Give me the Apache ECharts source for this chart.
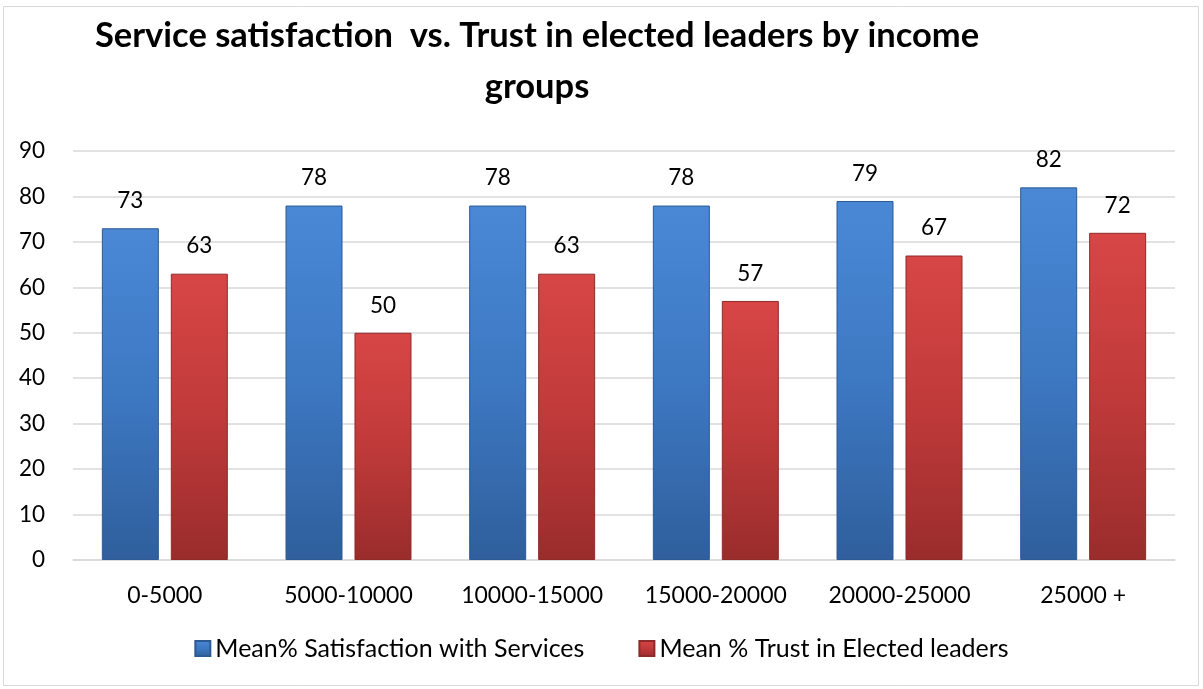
<!DOCTYPE html>
<html><head><meta charset="utf-8">
<script src="https://cdn.jsdelivr.net/npm/echarts@6/dist/echarts.min.js"></script>
<style>html,body{margin:0;padding:0;background:#fff}#c{width:1203px;height:689px}</style>
</head><body><div id="c"></div>
<script>
const categories = ['0-5000','5000-10000','10000-15000','15000-20000','20000-25000','25000 +'];
const satisfaction = [73,78,78,78,79,82];
const trust = [63,50,63,57,67,72];
const seriesNames = ['Mean% Satisfaction with Services','Mean % Trust in Elected leaders'];
const titleText = 'Service satisfaction  vs. Trust in elected leaders by income\ngroups';

const FONT = 'Lato, "Open Sans", sans-serif';
const chart = echarts.init(document.getElementById('c'));
function grad(top, mid, bot){
  return new echarts.graphic.LinearGradient(0,0,0,1,[{offset:0,color:top},{offset:0.5,color:mid},{offset:1,color:bot}]);
}
chart.setOption({
  animation:false,
  backgroundColor:'#fff',
  graphic:[{type:'rect',shape:{x:3.5,y:6.5,width:1195,height:679},style:{fill:'none',stroke:'#d9d9d9',lineWidth:1}}],
  title:{text:titleText,left:532,textAlign:'center',top:5,
    textStyle:{fontFamily:FONT,fontSize:34.5,fontWeight:'bold',color:'#000',lineHeight:51}},
  legend:{bottom:23,left:'center',itemWidth:15,itemHeight:15,itemGap:54,icon:'rect',
    textStyle:{fontFamily:FONT,fontSize:25,color:'#000'}},
  grid:{left:73,right:28,top:151,bottom:129},
  xAxis:{type:'category',data:categories,
    axisLine:{lineStyle:{color:'#d9d9d9',width:1.5}},axisTick:{show:false},
    axisLabel:{fontFamily:FONT,fontSize:23,color:'#000',margin:24,interval:0,hideOverlap:false}},
  yAxis:{type:'value',min:0,max:90,interval:10,
    axisLine:{show:false},axisTick:{show:false},
    splitLine:{lineStyle:{color:'#d9d9d9',width:1.5}},
    axisLabel:{fontFamily:FONT,fontSize:22.5,color:'#000',margin:28}},
  series:[
    {name:seriesNames[0],type:'bar',data:satisfaction,barWidth:57,barGap:'21%',
      itemStyle:{color:grad('#4a88d6','#3d78c2','#2f5f9c'),borderColor:'#2d5a93',borderWidth:1},
      label:{show:true,position:'top',distance:16,fontFamily:FONT,fontSize:22.5,color:'#000'}},
    {name:seriesNames[1],type:'bar',data:trust,barWidth:57,
      itemStyle:{color:grad('#d84646','#c03a3a','#9a2c2c'),borderColor:'#8f2a2a',borderWidth:1},
      label:{show:true,position:'top',distance:16,fontFamily:FONT,fontSize:22.5,color:'#000'}}
  ]
});
</script></body></html>
